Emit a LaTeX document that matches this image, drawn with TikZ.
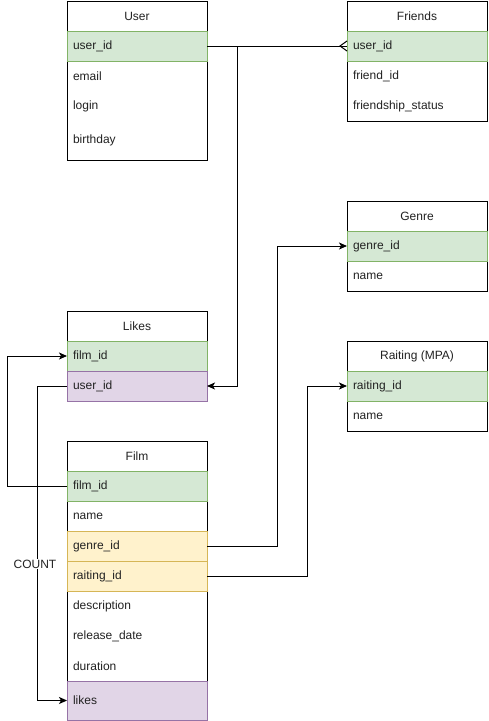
\documentclass[tikz,border=0pt]{standalone}
\usepackage{fontspec}
\setmainfont{Liberation Sans}
\usetikzlibrary{arrows.meta,calc}
\definecolor{gfill}{HTML}{D5E8D4}
\definecolor{gline}{HTML}{82B366}
\definecolor{pfill}{HTML}{E1D5E7}
\definecolor{pline}{HTML}{9673A6}
\definecolor{yfill}{HTML}{FFF2CC}
\definecolor{yline}{HTML}{D6B656}
\definecolor{txt}{HTML}{222222}
\begin{document}
\begin{tikzpicture}[x=1pt,y=-1pt,
  font=\fontsize{12}{14}\selectfont, text=txt,
  tbl/.style={draw=black, line width=1pt, fill=white, anchor=north west, minimum width=140pt, inner sep=0pt, outer sep=0pt},
  hdr/.style={anchor=north west, minimum width=140pt, minimum height=30pt, inner sep=0pt, outer sep=0pt},
  rowbox/.style={anchor=north west, minimum width=140pt, minimum height=30pt, text width=128pt, align=left, inner xsep=6pt, inner ysep=0pt, outer sep=0pt, line width=1pt},
  greenrow/.style={rowbox, draw=gline, fill=gfill},
  purplerow/.style={rowbox, draw=pline, fill=pfill},
  yellowrow/.style={rowbox, draw=yline, fill=yfill},
  whiterow/.style={rowbox},
  arr/.style={draw=black, line width=1pt, -{Stealth[length=8pt,width=7pt,inset=2pt]}},
  conn/.style={draw=black, line width=1pt}
]
\fill[white] (0,0) rectangle (488,721);
\useasboundingbox (0,0) rectangle (488,721);

% User
\node[tbl, minimum height=159pt] (user) at (67,1) {};
\node[hdr] (userh) at (67,1) {User};
\node[greenrow] (uuid) at (67,31) {user\_id};
\node[whiterow] (uemail) at (67,61) {email};
\node[whiterow] (ulogin) at (67,91) {login};
\node[whiterow, minimum height=39pt] (ubirth) at (67,121) {birthday};

% Friends
\node[tbl, minimum height=120pt] (friends) at (347,1) {};
\node[hdr] (friendsh) at (347,1) {Friends};
\node[greenrow] (fuid) at (347,31) {user\_id};
\node[whiterow] (ffrid) at (347,61) {friend\_id};
\node[whiterow] (fstat) at (347,91) {friendship\_status};

% Genre
\node[tbl, minimum height=90pt] (genre) at (347,201) {};
\node[hdr] (genreh) at (347,201) {Genre};
\node[greenrow] (ggid) at (347,231) {genre\_id};
\node[whiterow] (gname) at (347,261) {name};

% Likes
\node[tbl, minimum height=90pt] (likes) at (67,311) {};
\node[hdr] (likesh) at (67,311) {Likes};
\node[greenrow] (lfid) at (67,341) {film\_id};
\node[purplerow] (luid) at (67,371) {user\_id};

% Raiting
\node[tbl, minimum height=90pt] (rait) at (347,341) {};
\node[hdr] (raith) at (347,341) {Raiting (MPA)};
\node[greenrow] (rrid) at (347,371) {raiting\_id};
\node[whiterow] (rname) at (347,401) {name};

% Film
\node[tbl, minimum height=279pt] (film) at (67,441) {};
\node[hdr] (filmh) at (67,441) {Film};
\node[greenrow] (ffid) at (67,471) {film\_id};
\node[whiterow] (fname) at (67,501) {name};
\node[yellowrow] (fgid) at (67,531) {genre\_id};
\node[yellowrow] (frid) at (67,561) {raiting\_id};
\node[whiterow] (fdesc) at (67,591) {description};
\node[whiterow] (frel) at (67,621) {release\_date};
\node[whiterow] (fdur) at (67,651) {duration};
\node[purplerow, minimum height=39pt] (flikes) at (67,681) {likes};

% connectors
\draw[conn] (uuid.east) -- (fuid.west);
\coordinate (cf) at ($(fuid.west)+(-7,0)$);
\draw[conn] ($(fuid.west)+(0,-5)$) -- (cf) -- ($(fuid.west)+(0,5)$);
\draw[arr] (uuid.east) -- ($(uuid.east)+(30,0)$) |- (luid.east);
\draw[arr] (ffid.west) -- ($(ffid.west)+(-60,0)$) |- (lfid.west);
\draw[arr] (luid.west) -- ($(luid.west)+(-30,0)$) |- (flikes.west);
\node[fill=white, inner sep=1pt] (count) at (35,564) {COUNT};
\draw[arr] (fgid.east) -- ($(fgid.east)+(70,0)$) |- (ggid.west);
\draw[arr] (frid.east) -- ($(frid.east)+(100,0)$) |- (rrid.west);
\end{tikzpicture}
\end{document}
